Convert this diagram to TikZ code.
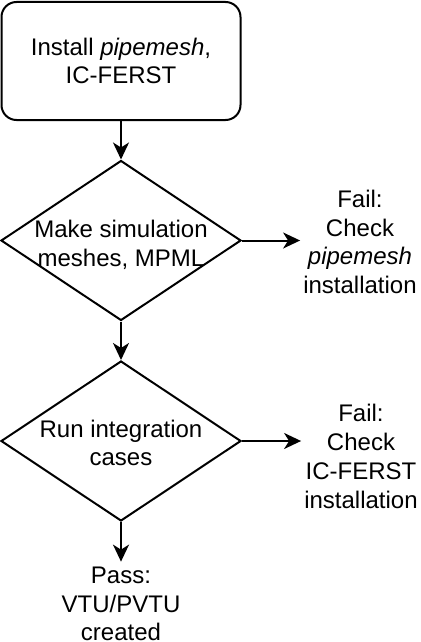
\documentclass[tikz,border=0pt]{standalone}
\usepackage{fontspec}
\setmainfont{Liberation Sans}
\usetikzlibrary{arrows.meta,positioning,shapes.geometric}

\begin{document}
\begin{tikzpicture}[x=1pt,y=-1pt]
        \tikzstyle{every node}=[font=\fontsize{24}{28.8}\selectfont,align=center,inner sep=0pt]
        \tikzstyle{flow}=[-{Stealth[length=17pt,width=16pt,inset=5pt]},line width=2pt]
        \tikzstyle{decide}=[draw,diamond,line width=2pt,minimum width=240pt,minimum height=160pt]
        \useasboundingbox (0,0) rectangle (420,642);

        %%% Install
        \node[draw,line width=2pt,rounded corners=15pt,minimum width=239pt,minimum height=118pt] (install) at (121,61) {Install \textit{pipemesh},\\IC-FERST};

        %%% Meshes
        \node[decide] (mesh) at (121,240.5) {};
        \node (meshtxt) at (121,244.5) {Make simulation\\meshes, MPML};
        \node (failmesh) at (360,242) {Fail:\\Check\\\textit{pipemesh}\\installation};

        %%% Runs
        \node[decide] (run) at (121,441) {};
        \node (runtxt) at (121,443) {Run integration\\cases};
        \node (failrun) at (361,456.5) {Fail:\\Check\\IC-FERST\\installation};
        \node (pass) at (121,604) {Pass:\\VTU/PVTU\\created};

        \draw[flow] (install) -- (mesh);
        \draw[flow] (mesh) -- (run);
        \draw[flow,shorten >=3pt] (mesh.east) -- (mesh.east -| failmesh.west);
        \draw[flow,shorten >=3pt] (run.east) -- (run.east -| failrun.west);
        \draw[flow] (run) -- ([yshift=5pt]pass.north);
    \end{tikzpicture}
\end{document}
